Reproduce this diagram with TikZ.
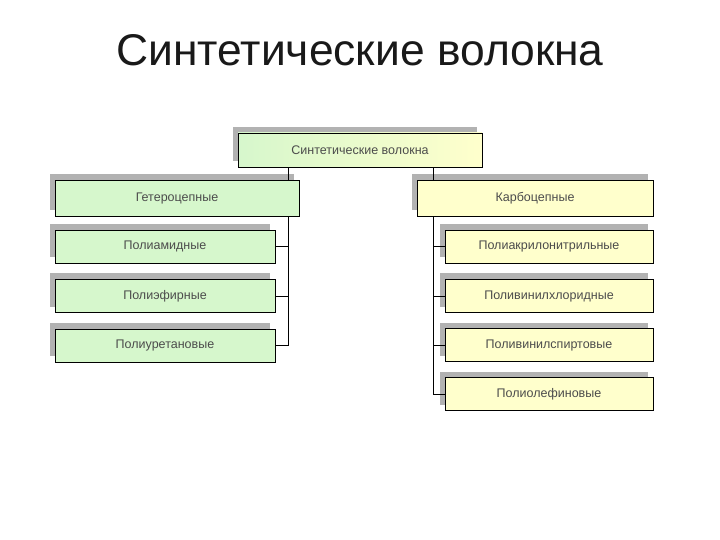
\documentclass[tikz,border=0pt]{standalone}
\usepackage{fontspec}
\setmainfont{Liberation Sans}
\usetikzlibrary{shadows}
\definecolor{boxgreen}{HTML}{D6F7CC}
\definecolor{boxyellow}{HTML}{FFFFCC}
\begin{document}
\begin{tikzpicture}[x=1bp,y=-1bp,
  base/.style={draw=black, line width=0.9bp, inner sep=0pt, font=\fontsize{12.5bp}{14bp}\selectfont, text=black!70,
    general shadow={shadow xshift=-5bp, shadow yshift=6bp, fill=black!30, draw=none}},
  gbox/.style={base, fill=boxgreen},
  ybox/.style={base, fill=boxyellow},
  conn/.style={draw=black, line width=0.9bp}]
\useasboundingbox (0,0) rectangle (720,540);
\node[font=\fontsize{44.4bp}{50bp}\selectfont, text=black!90] (title) at (360,50) {Синтетические волокна};
\node[base, left color=boxgreen, right color=boxyellow, minimum width=244bp, minimum height=34bp] (top) at (360,150) {Синтетические волокна};
\node[gbox, minimum width=244bp, minimum height=36bp] (het) at (177,198) {Гетероцепные};
\node[ybox, minimum width=236bp, minimum height=36bp] (kar) at (535,198) {Карбоцепные};
\node[gbox, minimum width=220bp, minimum height=33bp] (l1) at (165,246.5) {Полиамидные};
\node[gbox, minimum width=220bp, minimum height=33bp] (l2) at (165,296) {Полиэфирные};
\node[gbox, minimum width=220bp, minimum height=33bp] (l3) at (165,345.5) {Полиуретановые};
\node[ybox, minimum width=208bp, minimum height=33bp] (r1) at (549,246.5) {Полиакрилонитрильные};
\node[ybox, minimum width=208bp, minimum height=33bp] (r2) at (549,296) {Поливинилхлоридные};
\node[ybox, minimum width=208bp, minimum height=33bp] (r3) at (549,345) {Поливинилспиртовые};
\node[ybox, minimum width=208bp, minimum height=33bp] (r4) at (549,394) {Полиолефиновые};
\coordinate (lx) at (288,0);
\coordinate (rx) at (433,0);
\draw[conn] (top.south -| lx) -- (het.north -| lx);
\draw[conn] (top.south -| rx) -- (kar.north -| rx);
\draw[conn] (het.south -| lx) -- (l3.east -| lx) -- (l3.east);
\draw[conn] (l1.east) -- (l1.east -| lx);
\draw[conn] (l2.east) -- (l2.east -| lx);
\draw[conn] (kar.south -| rx) -- (r4.west -| rx) -- (r4.west);
\draw[conn] (r1.west -| rx) -- (r1.west);
\draw[conn] (r2.west -| rx) -- (r2.west);
\draw[conn] (r3.west -| rx) -- (r3.west);
\end{tikzpicture}
\end{document}
